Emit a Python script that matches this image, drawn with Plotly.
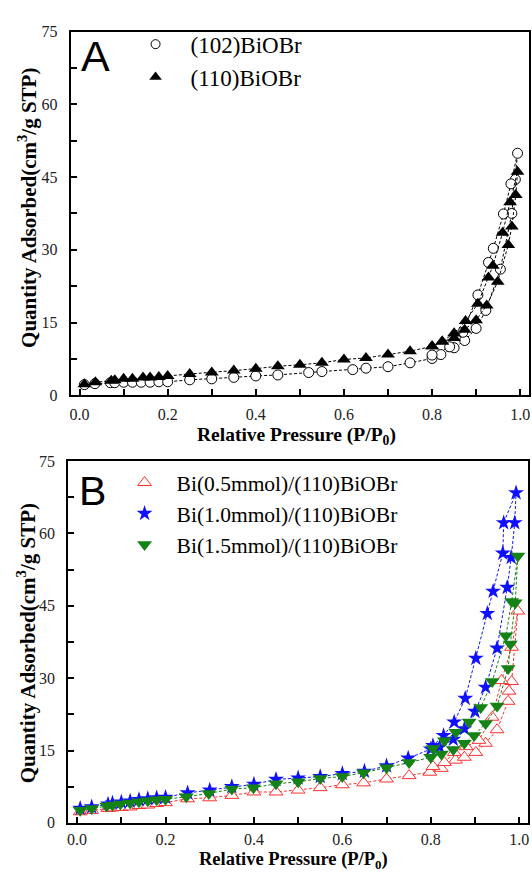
import plotly.graph_objects as go

# ---------------- Panel A data ----------------
a102_x = [0.011, 0.035, 0.07, 0.08, 0.10, 0.12, 0.14, 0.16, 0.18, 0.20, 0.25, 0.30, 0.35, 0.40, 0.45,
          0.52, 0.55, 0.62, 0.65, 0.70, 0.75, 0.80, 0.82, 0.85, 0.874, 0.90, 0.922, 0.955, 0.981, 0.989, 0.994,
          0.979, 0.962, 0.939, 0.928, 0.904, 0.87, 0.84, 0.80]
a102_y = [2.2, 2.4, 2.6, 2.6, 2.7, 2.7, 2.7, 2.7, 2.8, 2.8, 3.2, 3.4, 3.7, 4.0, 4.2,
          4.7, 4.9, 5.3, 5.6, 5.9, 6.7, 7.6, 8.4, 9.8, 11.3, 13.8, 17.5, 26.0, 37.5, 44.5, 49.9,
          43.6, 37.4, 30.3, 27.4, 20.7, 13.0, 10.0, 8.3]

a110_x = [0.011, 0.036, 0.072, 0.08, 0.10, 0.12, 0.144, 0.16, 0.18, 0.20, 0.25, 0.30, 0.35, 0.40, 0.45,
          0.50, 0.55, 0.60, 0.65, 0.70, 0.75, 0.80, 0.823, 0.85, 0.874, 0.90, 0.924, 0.949, 0.973, 0.981, 0.99, 0.994,
          0.977, 0.96, 0.938, 0.928, 0.904, 0.876, 0.85, 0.823, 0.80]
a110_y = [2.3, 2.7, 3.0, 3.1, 3.4, 3.4, 3.7, 3.7, 3.8, 4.0, 4.4, 4.7, 5.1, 5.5, 6.0,
          6.3, 6.7, 7.4, 7.7, 8.4, 9.1, 10.1, 11.1, 11.8, 13.5, 15.5, 18.5, 23.4, 31.0, 34.8, 41.3, 46.1,
          39.8, 33.5, 26.7, 24.3, 18.9, 15.3, 12.8, 11.1, 10.1]

# ---------------- Panel B data ----------------
b05_x = [0.007, 0.033, 0.07, 0.08, 0.10, 0.12, 0.14, 0.16, 0.18, 0.20, 0.25, 0.30, 0.35, 0.40, 0.45,
         0.50, 0.55, 0.60, 0.648, 0.70, 0.751, 0.798, 0.824, 0.856, 0.876, 0.902, 0.924, 0.95, 0.975, 0.977, 0.983, 0.997,
         0.983, 0.96, 0.939, 0.909, 0.88, 0.853, 0.831, 0.805]
b05_y = [2.3, 2.6, 3.0, 3.1, 3.2, 3.3, 3.6, 3.7, 4.0, 4.2, 5.0, 5.2, 5.7, 6.4, 6.4,
         6.8, 7.3, 7.9, 8.3, 9.1, 9.8, 10.5, 11.3, 13.0, 13.6, 14.6, 16.5, 19.3, 25.2, 27.3, 29.3, 43.9,
         36.4, 29.5, 21.9, 17.1, 15.8, 14.6, 12.5, 11.7]

b10_x = [0.007, 0.033, 0.07, 0.08, 0.10, 0.12, 0.14, 0.16, 0.18, 0.20, 0.25, 0.30, 0.35, 0.40, 0.45,
         0.50, 0.55, 0.60, 0.65, 0.70, 0.749, 0.80, 0.82, 0.851, 0.876, 0.90, 0.924, 0.95, 0.973, 0.982, 0.99, 0.993,
         0.965, 0.963, 0.941, 0.928, 0.902, 0.878, 0.853, 0.829, 0.805]
b10_y = [3.0, 3.3, 3.9, 4.1, 4.3, 4.5, 4.8, 5.0, 5.2, 5.3, 6.2, 6.8, 7.5, 8.0, 9.0,
         9.3, 9.6, 10.2, 10.7, 11.8, 13.4, 15.3, 15.7, 17.3, 19.5, 23.1, 28.1, 36.2, 48.8, 55.0, 62.2, 68.4,
         62.2, 55.9, 48.0, 43.4, 34.1, 25.8, 20.9, 18.1, 16.0]

b15_x = [0.007, 0.033, 0.067, 0.08, 0.098, 0.12, 0.14, 0.16, 0.18, 0.20, 0.247, 0.298, 0.35, 0.399, 0.45,
         0.50, 0.55, 0.60, 0.648, 0.70, 0.751, 0.80, 0.824, 0.851, 0.876, 0.898, 0.924, 0.95, 0.975, 0.98, 0.991, 0.997,
         0.983, 0.97, 0.939, 0.913, 0.887, 0.857, 0.831, 0.805]
b15_y = [2.6, 3.0, 3.5, 3.7, 3.9, 4.1, 4.4, 4.6, 4.8, 4.9, 5.4, 6.1, 7.0, 7.3, 8.1,
         8.5, 9.2, 9.6, 10.4, 11.4, 12.5, 13.6, 14.3, 15.2, 16.5, 18.1, 20.6, 24.2, 32.0, 37.1, 45.6, 55.3,
         45.9, 38.8, 29.3, 23.9, 20.9, 18.8, 17.0, 15.4]

names_a = ["(102)BiOBr", "(110)BiOBr"]
names_b = ["Bi(0.5mmol)/(110)BiOBr", "Bi(1.0mmol)/(110)BiOBr", "Bi(1.5mmol)/(110)BiOBr"]
y_ticks = [0, 15, 30, 45, 60, 75]
x_ticks = [0.0, 0.2, 0.4, 0.6, 0.8, 1.0]

W, H = 532, 876
SERIF = "Liberation Serif, Times New Roman, serif"
SANS = "Liberation Sans, Arial, sans-serif"

fig = go.Figure()

def add_series(x, y, name, color, symbol, size, xa, ya, legend, fillcolor, lw=1.0, lsize=None):
    fig.add_trace(go.Scatter(
        x=x, y=y, mode="lines+markers", xaxis=xa, yaxis=ya, showlegend=False,
        line=dict(color=color, width=1, dash="3px,2px"),
        marker=dict(symbol=symbol, size=size, color=fillcolor,
                    line=dict(color=color, width=lw)),
    ))
    fig.add_trace(go.Scatter(
        x=[None], y=[None], mode="markers", name=name, xaxis=xa, yaxis=ya,
        legend=legend, showlegend=True,
        marker=dict(symbol=symbol, size=lsize or size, color=fillcolor,
                    line=dict(color=color, width=lw)),
    ))

add_series(a102_x, a102_y, names_a[0], "black", "circle", 10, "x", "y", "legend", "white", lw=1, lsize=9)
add_series(a110_x, a110_y, names_a[1], "black", "triangle-up", 12, "x", "y", "legend", "black", lw=0, lsize=11)
add_series(b05_x, b05_y, names_b[0], "#ff3030", "triangle-up", 12, "x2", "y2", "legend2", "white", lw=1)
add_series(b10_x, b10_y, names_b[1], "#1010ff", "star", 12, "x2", "y2", "legend2", "#1010ff", lw=0)
add_series(b15_x, b15_y, names_b[2], "#148214", "triangle-down", 13, "x2", "y2", "legend2", "#148214", lw=0)

def xa(domain, anchor, standoff):
    return dict(domain=domain, anchor=anchor, range=[-0.02, 1.02],
                tickvals=x_ticks, ticktext=[f"{v:.1f}" for v in x_ticks],
                ticks="inside", ticklen=6, tickwidth=1.5, tickcolor="black",
                minor=dict(dtick=0.1, tick0=0, ticks="inside", ticklen=6, tickwidth=1.5, tickcolor="black"),
                showline=True, linewidth=2, linecolor="black", mirror=True,
                showgrid=False, zeroline=False,
                tickfont=dict(family=SERIF, size=16, color="#222"), ticklabelstandoff=standoff)

def ya(domain, anchor):
    return dict(domain=domain, anchor=anchor, range=[0, 75],
                tickvals=y_ticks, ticktext=[str(v) for v in y_ticks],
                ticks="inside", ticklen=6, tickwidth=1.5, tickcolor="black",
                minor=dict(dtick=7.5, tick0=0, ticks="inside", ticklen=6, tickwidth=1.5, tickcolor="black"),
                showline=True, linewidth=2, linecolor="black", mirror=True,
                showgrid=False, zeroline=False,
                tickfont=dict(family=SERIF, size=16, color="#222"), ticklabelstandoff=8)

def px_x(p):
    return p / W

def px_y(p):
    return 1 - p / H

fig.update_layout(
    width=W, height=H,
    margin=dict(l=0, r=0, t=0, b=0),
    paper_bgcolor="white", plot_bgcolor="white",
    xaxis=xa([px_x(70), px_x(530)], "y", 3),
    yaxis=ya([px_y(395), px_y(24)], "x"),
    xaxis2=xa([px_x(67.5), px_x(529)], "y2", 1),
    yaxis2=ya([px_y(831), px_y(462)], "x2"),
    legend=dict(x=px_x(120), y=px_y(15), xanchor="left", yanchor="top",
                bgcolor="rgba(0,0,0,0)", font=dict(family=SERIF, size=23, color="black"),
                itemwidth=60, tracegroupgap=0),
    legend2=dict(x=px_x(112), y=px_y(463), xanchor="left", yanchor="top",
                 bgcolor="rgba(0,0,0,0)", font=dict(family=SERIF, size=21.5, color="black"),
                 itemwidth=54, tracegroupgap=0),
    showlegend=True,
)

ann = [
    dict(text="A", x=px_x(94.5), y=px_y(49), font=dict(family=SANS, size=43, color="black")),
    dict(text="B", x=px_x(92), y=px_y(493), font=dict(family=SANS, size=41, color="black")),
    dict(text="<b>Relative Pressure (P/P<sub>0</sub>)</b>", x=px_x(297), y=px_y(436),
         font=dict(family=SERIF, size=19.5, color="black")),
    dict(text="<b>Relative Pressure (P/P<sub>0</sub>)</b>", x=px_x(294), y=px_y(869),
         font=dict(family=SERIF, size=18.5, color="black")),
    dict(text="<b>Quantity Adsorbed(cm<sup>3</sup>/g STP)</b>", x=px_x(26), y=px_y(204), textangle=-90,
         font=dict(family=SERIF, size=21, color="black")),
    dict(text="<b>Quantity Adsorbed(cm<sup>3</sup>/g STP)</b>", x=px_x(26), y=px_y(648), textangle=-90,
         font=dict(family=SERIF, size=21, color="black")),
]
for a in ann:
    a.update(xref="paper", yref="paper", showarrow=False, xanchor="center", yanchor="middle")
fig.update_layout(annotations=ann)

fig.write_html("out.html")
